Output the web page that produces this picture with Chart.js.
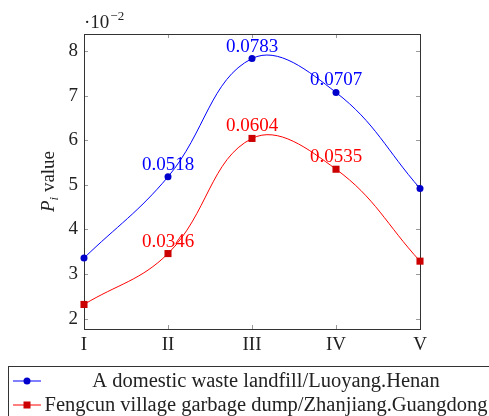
<!DOCTYPE html>
<html lang="en">
<head>
<meta charset="UTF-8" />
<title>P_i value</title>
<script src="https://cdn.jsdelivr.net/npm/chart.js"></script>
<style>
    html, body { margin: 0; padding: 0; background: #fff; }
    #wrap { width: 489px; height: 416px; }
</style>
</head>
<body>
<div id="wrap"><canvas id="chart" width="489" height="416"></canvas></div>
<script>
    // values in units of 10^-2
    const categories = ['I', 'II', 'III', 'IV', 'V'];
    const landfillValues = [3.36, 5.18, 7.83, 7.07, 4.92];
    const dumpValues = [2.32, 3.46, 6.04, 5.35, 3.29];
    const landfillLabels = ['', '0.0518', '0.0783', '0.0707', ''];
    const dumpLabels = ['', '0.0346', '0.0604', '0.0535', ''];
    const yTicks = [2, 3, 4, 5, 6, 7, 8];
    const seriesNames = [
        'A domestic waste landfill/Luoyang.Henan',
        'Fengcun village garbage dump/Zhanjiang.Guangdong'
    ];

    const FONT = '"Liberation Serif", "DejaVu Serif", serif';
    const BLUE = '#0000ff', RED = '#ff0000';
    const BLUE_MARK = '#0000cc', RED_MARK = '#cc0000';

    const pgfPlugin = {
        id: 'pgf',
        beforeDatasetsDraw(chart) {
            const { ctx, chartArea: a, scales: { x, y } } = chart;
            ctx.save();
            // tick marks, inside, mirrored
            ctx.strokeStyle = '#999';
            ctx.lineWidth = 1;
            ctx.beginPath();
            yTicks.forEach(v => {
                const py = Math.round(y.getPixelForValue(v)) + 0.5;
                ctx.moveTo(a.left, py); ctx.lineTo(a.left + 4, py);
                ctx.moveTo(a.right, py); ctx.lineTo(a.right - 4, py);
            });
            categories.forEach((c, i) => {
                const px = Math.round(x.getPixelForValue(i)) + 0.5;
                ctx.moveTo(px, a.bottom); ctx.lineTo(px, a.bottom - 4);
                ctx.moveTo(px, a.top); ctx.lineTo(px, a.top + 4);
            });
            ctx.stroke();
            // axis box
            ctx.strokeStyle = '#333';
            ctx.strokeRect(Math.round(a.left) + 0.5, Math.round(a.top) + 0.5,
                Math.round(a.right - a.left), Math.round(a.bottom - a.top));
            ctx.restore();
        },
        afterDraw(chart) {
            const { ctx, chartArea: a } = chart;
            ctx.save();

            // data labels
            ctx.textAlign = 'center';
            ctx.textBaseline = 'alphabetic';
            ctx.font = '19px ' + FONT;
            [[landfillLabels, BLUE], [dumpLabels, RED]].forEach(([labels, color], d) => {
                const meta = chart.getDatasetMeta(d);
                ctx.fillStyle = color;
                labels.forEach((t, i) => {
                    if (!t) return;
                    const el = meta.data[i];
                    ctx.fillText(t, el.x, el.y - 7);
                });
            });

            // multiplier ·10^-2
            ctx.fillStyle = '#222';
            ctx.textAlign = 'left';
            ctx.font = '19px ' + FONT;
            ctx.fillText('\u00b710', a.left, 28);
            const w = ctx.measureText('\u00b710').width;
            ctx.font = '13px ' + FONT;
            ctx.fillText('\u22122', a.left + w + 1, 20);

            // y axis title: P_i value
            ctx.save();
            ctx.translate(54, (a.top + a.bottom) / 2);
            ctx.rotate(-Math.PI / 2);
            ctx.font = 'italic 19px ' + FONT;
            const pw = ctx.measureText('P').width;
            ctx.font = 'italic 13px ' + FONT;
            const iw = ctx.measureText('i').width;
            ctx.font = '19px ' + FONT;
            const vw = ctx.measureText(' value').width;
            let sx = -(pw + iw + vw) / 2;
            ctx.font = 'italic 19px ' + FONT;
            ctx.fillText('P', sx, 0);
            ctx.font = 'italic 13px ' + FONT;
            ctx.fillText('i', sx + pw, 4);
            ctx.font = '19px ' + FONT;
            ctx.fillText(' value', sx + pw + iw, 0);
            ctx.restore();

            // legend box
            ctx.strokeStyle = '#333';
            ctx.lineWidth = 1;
            ctx.strokeRect(8.5, 366.5, 500, 60);
            const rows = [
                { y: 381, base: 387, color: BLUE, mark: BLUE_MARK, style: 'circle' },
                { y: 405, base: 411, color: RED, mark: RED_MARK, style: 'rect' }
            ];
            rows.forEach((r, i) => {
                ctx.strokeStyle = r.color;
                ctx.beginPath();
                ctx.moveTo(13, r.y); ctx.lineTo(41, r.y);
                ctx.stroke();
                ctx.fillStyle = r.mark;
                if (r.style === 'circle') {
                    ctx.beginPath();
                    ctx.arc(27, r.y, 3.5, 0, Math.PI * 2);
                    ctx.fill();
                } else {
                    ctx.fillRect(23.5, r.y - 3.5, 7, 7);
                }
                ctx.fillStyle = '#222';
                ctx.textAlign = 'center';
                ctx.font = '20.5px ' + FONT;
                ctx.fillText(seriesNames[i], 266, r.base);
            });
            ctx.restore();
        }
    };

    const ctx = document.getElementById('chart').getContext('2d');
    new Chart(ctx, {
        type: 'line',
        data: {
            labels: categories,
            datasets: [{
                label: seriesNames[0],
                data: landfillValues,
                borderColor: BLUE,
                borderWidth: 1,
                backgroundColor: BLUE_MARK,
                pointStyle: 'circle',
                pointRadius: 3.5,
                pointBorderWidth: 0,
                tension: 0.4,
                fill: false
            }, {
                label: seriesNames[1],
                data: dumpValues,
                borderColor: RED,
                borderWidth: 1,
                backgroundColor: RED_MARK,
                pointStyle: 'rect',
                pointRadius: 5,
                pointBorderWidth: 0,
                tension: 0.4,
                fill: false
            }]
        },
        options: {
            responsive: false,
            animation: false,
            layout: { padding: { top: 34, right: 69, bottom: 60, left: 0 } },
            plugins: {
                legend: { display: false },
                tooltip: { enabled: false }
            },
            scales: {
                x: {
                    offset: false,
                    grid: { display: false, drawTicks: false },
                    border: { display: false },
                    ticks: { font: { family: FONT, size: 19 }, color: '#222', padding: 5, maxRotation: 0 },
                    afterFit: s => { s.height = 27; }
                },
                y: {
                    min: 1.77,
                    max: 8.38,
                    grid: { display: false, drawTicks: false },
                    border: { display: false },
                    afterBuildTicks: s => { s.ticks = yTicks.map(v => ({ value: v })); },
                    ticks: { font: { family: FONT, size: 19 }, color: '#222', padding: 6 },
                    afterFit: s => { s.width = 84; }
                }
            }
        },
        plugins: [pgfPlugin]
    });
</script>
</body>
</html>
